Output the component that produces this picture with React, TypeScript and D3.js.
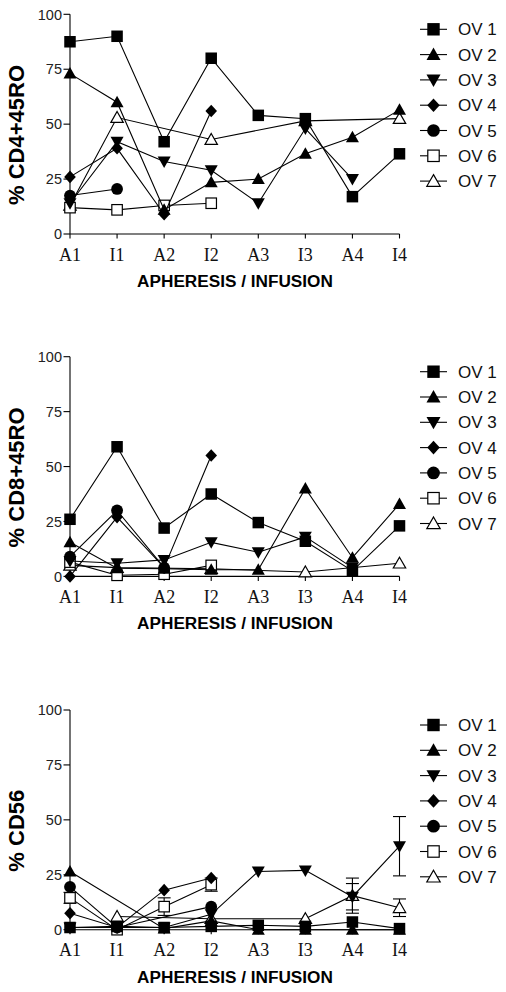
import React from "react";
import * as d3 from "d3";

const categories = ["A1", "I1", "A2", "I2", "A3", "I3", "A4", "I4"];
const seriesNames = ["OV 1", "OV 2", "OV 3", "OV 4", "OV 5", "OV 6", "OV 7"];
const yTicks = [0, 25, 50, 75, 100];
const panelTitles = ["% CD4+45RO", "% CD8+45RO", "% CD56"];
const xTitle = "APHERESIS / INFUSION";

type V = number | null;

// Panel 1: % CD4+45RO
const cd4OV1: V[] = [87.5, 90, 42, 80, 54, 52.5, 17, 36.5];
const cd4OV2: V[] = [73, 60, 11, 23.5, 25, 36.5, 44, 56.5];
const cd4OV3: V[] = [14, 42, 33, 29, 14, 48, 25, null];
const cd4OV4: V[] = [26, 39, 9, 56, null, null, null, null];
const cd4OV5: V[] = [17.5, 20.5, null, null, null, null, null, null];
const cd4OV6: V[] = [12, 11, 13, 14, null, null, null, null];
const cd4OV7: V[] = [13, 53, null, 43, null, 51.5, null, 52.5];

// Panel 2: % CD8+45RO
const cd8OV1: V[] = [26, 59, 22, 37.5, 24.5, 16, 2.5, 23];
const cd8OV2: V[] = [15.5, 3.7, 3.5, 3, 3, 40, 8.5, 33];
const cd8OV3: V[] = [7, 6, 7.5, 15.5, 11, 18, 4, null];
const cd8OV4: V[] = [0, 27, 4, 55, null, null, null, null];
const cd8OV5: V[] = [9, 30, 4, null, null, null, null, null];
const cd8OV6: V[] = [6.5, 0.5, 1, 5, null, null, null, null];
const cd8OV7: V[] = [5, 4, null, 3.5, null, 2, null, 6];

// Panel 3: % CD56
const cd56OV1: V[] = [1, 1.5, 1, 1.5, 2, 1.5, 3.5, 0.5];
const cd56OV2: V[] = [26.5, null, 0.5, 4, 0, 0, 0, 0];
const cd56OV3: V[] = [1, 1, 1, 7, 26.5, 27, 15, 38];
const cd56OV4: V[] = [7.5, 1, 18, 23.5, null, null, null, null];
const cd56OV5: V[] = [19.5, 1, null, 10.5, null, null, null, null];
const cd56OV6: V[] = [14.5, 0, 10.5, 20.5, null, null, null, null];
const cd56OV7: V[] = [null, 6, null, 5, null, 5, 15.5, 10];

// Error bars (CD56 panel only; half-length)
const cd56ErrOV3: V[] = [null, null, null, null, null, null, 6, 13.5];
const cd56ErrOV6: V[] = [2.5, null, 4, 3, null, null, null, null];
const cd56ErrOV7: V[] = [null, null, null, null, null, null, 8, 4];

const panels = [
  { title: panelTitles[0], series: [cd4OV1, cd4OV2, cd4OV3, cd4OV4, cd4OV5, cd4OV6, cd4OV7], errors: [] as (V[] | null)[] },
  { title: panelTitles[1], series: [cd8OV1, cd8OV2, cd8OV3, cd8OV4, cd8OV5, cd8OV6, cd8OV7], errors: [] as (V[] | null)[] },
  {
    title: panelTitles[2],
    series: [cd56OV1, cd56OV2, cd56OV3, cd56OV4, cd56OV5, cd56OV6, cd56OV7],
    errors: [null, null, cd56ErrOV3, null, null, cd56ErrOV6, cd56ErrOV7] as (V[] | null)[],
  },
];

const panelOffsets = [0, 342.4, 695.7];
const shapes = ["square", "triangleUp", "triangleDown", "diamond", "circle", "openSquare", "openTriangle"];

const SANS = "'Liberation Sans', Arial, Helvetica, sans-serif";
const SERIF = "'Liberation Serif', 'Times New Roman', serif";

function Marker({ shape, cx, cy, k = 1 }: { shape: string; cx: number; cy: number; k?: number }) {
  const s = 11.5 * k;
  const h = s / 2;
  switch (shape) {
    case "square":
      return <rect x={cx - h} y={cy - h} width={s} height={s} fill="#000" />;
    case "openSquare":
      return <rect x={cx - h + 0.5} y={cy - h + 0.5} width={s - 1} height={s - 1} fill="#fff" stroke="#000" strokeWidth={1.2} />;
    case "triangleUp":
      return <path d={`M${cx},${cy - 6.5 * k} L${cx + 6.5 * k},${cy + 5 * k} L${cx - 6.5 * k},${cy + 5 * k} Z`} fill="#000" />;
    case "openTriangle":
      return (
        <path
          d={`M${cx},${cy - 6 * k} L${cx + 6.2 * k},${cy + 4.8 * k} L${cx - 6.2 * k},${cy + 4.8 * k} Z`}
          fill="#fff"
          stroke="#000"
          strokeWidth={1.2}
        />
      );
    case "triangleDown":
      return <path d={`M${cx},${cy + 6.5 * k} L${cx + 6.5 * k},${cy - 5 * k} L${cx - 6.5 * k},${cy - 5 * k} Z`} fill="#000" />;
    case "diamond":
      return (
        <path d={`M${cx},${cy - 6.3 * k} L${cx + 5.8 * k},${cy} L${cx},${cy + 6.3 * k} L${cx - 5.8 * k},${cy} Z`} fill="#000" />
      );
    case "circle":
    default:
      return <circle cx={cx} cy={cy} r={5.9 * k} fill="#000" />;
  }
}

function Panel({ idx }: { idx: number }) {
  const p = panels[idx];
  const off = panelOffsets[idx];
  const x = d3.scalePoint<string>().domain(categories).range([70, 399.5]);
  const y = d3.scaleLinear().domain([0, 100]).range([234 + off, 14.3 + off]);
  const line = d3
    .line<{ c: string; v: number }>()
    .x((d) => x(d.c) as number)
    .y((d) => y(d.v));

  const order = [6, 5, 4, 3, 2, 1, 0];
  const legendY0 = 29.3 + off;
  const legendStep = 25.3;

  return (
    <g>
      {/* axes */}
      <line x1={70} x2={70} y1={y(0)} y2={y(100)} stroke="#000" strokeWidth={1.1} />
      <line x1={70} x2={399.5} y1={y(0)} y2={y(0)} stroke="#000" strokeWidth={1.1} />
      {yTicks.map((t) => (
        <g key={t}>
          <line x1={63.5} x2={70} y1={y(t)} y2={y(t)} stroke="#000" strokeWidth={1.1} />
          <text x={62} y={y(t)} dy="0.36em" textAnchor="end" fontFamily={SANS} fontSize={14.5} fill="#222">
            {t}
          </text>
        </g>
      ))}
      {categories.map((c) => (
        <g key={c}>
          <line x1={x(c)} x2={x(c)} y1={y(0)} y2={y(0) + 4.5} stroke="#000" strokeWidth={1.1} />
          <text x={x(c)} y={y(0) + 26.7} textAnchor="middle" fontFamily={SERIF} fontSize={18} fill="#111">
            {c}
          </text>
        </g>
      ))}
      <text x={235} y={287 + off} textAnchor="middle" fontFamily={SANS} fontWeight="bold" fontSize={17.2} fill="#000">
        {xTitle}
      </text>
      <text
        transform={`translate(24,${135 + off}) rotate(-90)`}
        textAnchor="middle"
        fontFamily={SANS}
        fontWeight="bold"
        fontSize={22}
        fill="#000"
      >
        {p.title}
      </text>

      {/* series */}
      {order.map((si) => {
        const vals = p.series[si];
        const pts = categories
          .map((c, i) => ({ c, v: vals[i] as number, e: p.errors[si] ? (p.errors[si] as V[])[i] : null }))
          .filter((d) => d.v !== null && d.v !== undefined);
        return (
          <g key={si}>
            <path d={line(pts) || ""} fill="none" stroke="#000" strokeWidth={1.1} />
            {pts
              .filter((d) => d.e !== null && d.e !== undefined)
              .map((d, k) => {
                const cx = x(d.c) as number;
                const top = y(d.v + (d.e as number));
                const bot = y(Math.max(0, d.v - (d.e as number)));
                return (
                  <g key={`e${k}`}>
                    <line x1={cx} x2={cx} y1={top} y2={bot} stroke="#000" strokeWidth={1.1} />
                    <line x1={cx - 6.5} x2={cx + 6.5} y1={top} y2={top} stroke="#000" strokeWidth={1.1} />
                    <line x1={cx - 6.5} x2={cx + 6.5} y1={bot} y2={bot} stroke="#000" strokeWidth={1.1} />
                  </g>
                );
              })}
            {pts.map((d, k) => (
              <Marker key={k} shape={shapes[si]} cx={x(d.c) as number} cy={y(d.v)} />
            ))}
          </g>
        );
      })}

      {/* legend */}
      {seriesNames.map((n, i) => {
        const ly = legendY0 + i * legendStep;
        return (
          <g key={n}>
            <line x1={420} x2={447} y1={ly} y2={ly} stroke="#000" strokeWidth={1.1} />
            <Marker shape={shapes[i]} cx={433.5} cy={ly} k={1.08} />
            <text x={458} y={ly} dy="0.36em" fontFamily={SANS} fontSize={17} fill="#111">
              {n}
            </text>
          </g>
        );
      })}
    </g>
  );
}

export default function App() {
  return (
    <svg
      width={506}
      height={992}
      viewBox="0 0 506 992"
      style={{ position: "absolute", left: 0, top: 0, background: "#fff" }}
    >
      <rect width={506} height={992} fill="#fff" />
      {panels.map((_, i) => (
        <Panel key={i} idx={i} />
      ))}
    </svg>
  );
}
